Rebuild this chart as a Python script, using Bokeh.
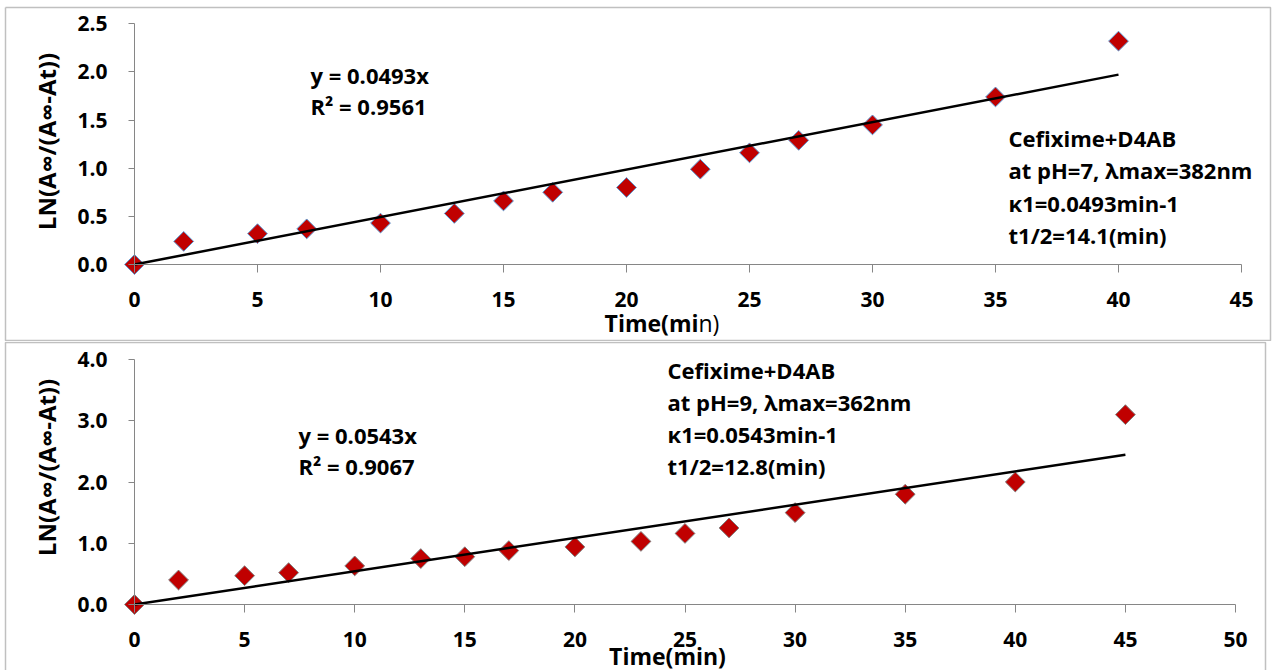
import numpy as np
from bokeh.plotting import figure
from bokeh.models import Label, NumeralTickFormatter, FixedTicker, Range1d
from bokeh.layouts import column
from bokeh.embed import file_html
from bokeh.resources import INLINE

# ---- data ----
time_ph7 = [0, 2, 5, 7, 10, 13, 15, 17, 20, 23, 25, 27, 30, 35, 40]
ln_ph7 = [0.00, 0.24, 0.32, 0.37, 0.43, 0.53, 0.66, 0.75, 0.80, 0.99, 1.16, 1.29, 1.45, 1.74, 2.32]
slope_ph7 = 0.0493
eq_ph7 = ["y = 0.0493x", "R\u00b2 = 0.9561"]
info_ph7 = ["Cefixime+D4AB", "at pH=7, \u03bbmax=382nm", "\u03ba1=0.0493min-1", "t1/2=14.1(min)"]

time_ph9 = [0, 2, 5, 7, 10, 13, 15, 17, 20, 23, 25, 27, 30, 35, 40, 45]
ln_ph9 = [0.00, 0.40, 0.47, 0.52, 0.63, 0.75, 0.78, 0.88, 0.94, 1.03, 1.16, 1.25, 1.50, 1.80, 2.00, 3.10]
slope_ph9 = 0.0543
eq_ph9 = ["y = 0.0543x", "R\u00b2 = 0.9067"]
info_ph9 = ["Cefixime+D4AB", "at pH=9, \u03bbmax=362nm", "\u03ba1=0.0543min-1", "t1/2=12.8(min)"]

x_ticks_top = [0, 5, 10, 15, 20, 25, 30, 35, 40, 45]
y_ticks_top = [0.0, 0.5, 1.0, 1.5, 2.0, 2.5]
x_ticks_bot = [0, 5, 10, 15, 20, 25, 30, 35, 40, 45, 50]
y_ticks_bot = [0.0, 1.0, 2.0, 3.0, 4.0]

y_title = "LN(A\u221e/(A\u221e-At))"
x_title = "Time(min)"

FONT = "Open Sans"
AXIS_COL = "#868686"
BORDER_COL = "#C0C0C0"


def make_chart(t, ln, slope, eq, info, xmax, ymax, xticks, yticks,
               width, height, origin, px0, px1, py0, py1,
               marker_line, eq_pos, eq_step, info_pos, info_step,
               xtitle_pos, ytitle_pos, split_title, border_pts):
    # origin: page position of canvas top-left; px0/px1: page x of 0 and xmax;
    # py0/py1: page y of 0 and ymax.
    sx = (px1 - px0) / xmax
    sy = (py0 - py1) / ymax
    x_start = (origin[0] - px0) / sx
    x_end = (origin[0] + width - px0) / sx
    y_end = (py0 - origin[1]) / sy
    y_start = -(origin[1] + height - py0) / sy

    def page_to_data(px, py):
        return (px - px0) / sx, (py0 - py) / sy

    p = figure(width=width, height=height,
               x_range=Range1d(x_start, x_end), y_range=Range1d(y_start, y_end),
               output_backend="svg", toolbar_location=None,
               min_border_left=0, min_border_right=0,
               min_border_top=0, min_border_bottom=0)
    p.outline_line_color = None
    p.xgrid.visible = False
    p.ygrid.visible = False
    p.background_fill_color = "white"
    p.border_fill_color = "white"

    # chart-area border (decoration)
    bx, by = zip(*[page_to_data(a, b) for a, b in border_pts])
    p.line(list(bx), list(by), line_color=BORDER_COL, line_width=1.5)

    xa = p.xaxis[0]
    ya = p.yaxis[0]
    xa.fixed_location = 0
    ya.fixed_location = 0
    xa.bounds = (0, xmax)
    ya.bounds = (0, ymax)
    for ax in (xa, ya):
        ax.axis_line_color = AXIS_COL
        ax.major_tick_line_color = AXIS_COL
        ax.minor_tick_line_color = None
        ax.major_tick_in = 0
        ax.major_label_text_font = FONT
        ax.major_label_text_font_style = "bold"
        ax.major_label_text_font_size = "21px"
        ax.major_label_text_color = "black"
    xa.major_tick_out = 8
    ya.major_tick_out = 6
    xa.ticker = FixedTicker(ticks=xticks)
    ya.ticker = FixedTicker(ticks=yticks)
    xa.formatter = NumeralTickFormatter(format="0")
    ya.formatter = NumeralTickFormatter(format="0.0")
    xa.major_label_standoff = 19
    ya.major_label_standoff = 21

    p.scatter(t, ln, marker="square", angle=np.pi / 4, size=14,
              fill_color="#C00000", line_color=marker_line, line_width=1)
    xs = [0, t[-1]]
    p.line(xs, [slope * v for v in xs], line_color="black", line_width=2.5)

    def add_text(px, py, s, size, align="left", style="bold", angle=0.0):
        x, y = page_to_data(px, py)
        p.add_layout(Label(x=x, y=y, text=s, angle=angle,
                           text_font=FONT, text_font_style=style,
                           text_font_size=size, text_baseline="middle",
                           text_align=align, text_color="black"))

    for i, s in enumerate(eq):
        add_text(eq_pos[0], eq_pos[1] + i * eq_step, s, "22px")
    for i, s in enumerate(info):
        add_text(info_pos[0], info_pos[1] + i * info_step, s, "22px")

    add_text(ytitle_pos[0], ytitle_pos[1], y_title, "24px", align="center",
             angle=np.pi / 2)

    if split_title:
        add_text(xtitle_pos[0], xtitle_pos[1], x_title[:7], "23px", align="right")
        add_text(xtitle_pos[0], xtitle_pos[1], x_title[7:], "23px", align="left",
                 style="normal")
    else:
        add_text(xtitle_pos[0], xtitle_pos[1], x_title, "23px", align="center")
    return p


p1 = make_chart(time_ph7, ln_ph7, slope_ph7, eq_ph7, info_ph7, 45, 2.5,
                x_ticks_top, y_ticks_top, 1275, 341, (0, 0),
                134, 1241, 264, 23.3,
                "#5B9BD5", (310, 74), 31, (1008, 137), 32.5,
                (698, 322), (46, 141), True,
                [(5, 7), (1270, 7), (1270, 340), (5, 340), (5, 7)])

p2 = make_chart(time_ph9, ln_ph9, slope_ph9, eq_ph9, info_ph9, 50, 4.0,
                x_ticks_bot, y_ticks_bot, 1275, 329, (0, 341),
                134, 1235, 604, 359,
                "#7F7F7F", (298, 434), 31, (667, 369), 32,
                (667, 655), (46, 467), False,
                [(5, 675), (5, 342), (1265, 342), (1265, 675)])

layout = column(p1, p2, spacing=0)
open("out.html", "w").write(file_html(layout, INLINE))
